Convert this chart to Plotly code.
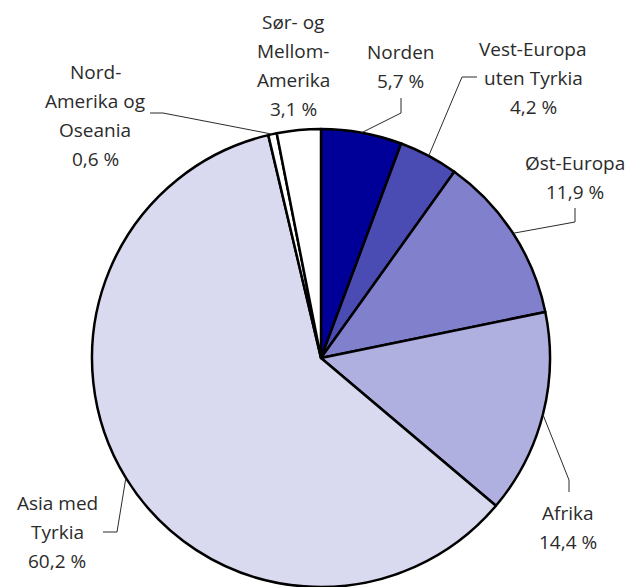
import math
import plotly.graph_objects as go

# Share of immigrants by region of origin (per cent)
regions = ["Norden", "Vest-Europa uten Tyrkia", "Øst-Europa", "Afrika",
           "Asia med Tyrkia", "Nord-Amerika og Oseania", "Sør- og Mellom-Amerika"]
shares = [5.7, 4.2, 11.9, 14.4, 60.2, 0.6, 3.1]
label_lines = [["Norden"], ["Vest-Europa", "uten Tyrkia"], ["Øst-Europa"], ["Afrika"],
               ["Asia med", "Tyrkia"], ["Nord-", "Amerika og", "Oseania"],
               ["Sør- og", "Mellom-", "Amerika"]]

colors = ["#000099", "#4b4bb4", "#8080cc", "#b0b0e0", "#d9d9f0", "#ffffff", "#ffffff"]

W, H = 633, 587
CX, CY, R = 321, 358, 229          # pie centre and radius in pixels
LINE_GAP = 29                       # label line spacing in pixels
TEXT_COLOR = "#2b2b2b"


def px(x):
    return x / W


def py(y):
    return 1 - y / H


# label placement: centre x, first line y, elbow points of the leader line
label_pos = [
    (401, 52, [(401, 98), (401, 113)]),
    (533, 49, [(477, 77), (462, 77)]),
    (575, 163, [(575, 208), (575, 222)]),
    (568, 513, [(569, 492), (569, 480)]),
    (57, 503, [(103, 532), (117, 532)]),
    (95, 72, [(150, 113), (163, 113)]),
    (293, 22, []),
]

fig = go.Figure(go.Pie(
    labels=regions,
    values=shares,
    sort=False,
    direction="clockwise",
    rotation=0,
    marker=dict(colors=colors, line=dict(color="black", width=2.5)),
    textinfo="none",
    hoverinfo="label+percent",
    showlegend=False,
    domain=dict(x=[px(CX - R), px(CX + R)], y=[py(CY + R), py(CY - R)]),
))

total = sum(shares)
cum = 0.0
annotations = []
shapes = []
for name, val, lines, (lx, ly, elbow) in zip(regions, shares, label_lines, label_pos):
    mid = (cum + val / 2) / total * 2 * math.pi
    cum += val
    texts = lines + [f"{val:.1f} %".replace(".", ",")]
    for i, t in enumerate(texts):
        annotations.append(dict(
            x=px(lx), y=py(ly + i * LINE_GAP), xref="paper", yref="paper",
            text=t, showarrow=False, xanchor="center", yanchor="middle",
            font=dict(family="Open Sans", size=19, color=TEXT_COLOR),
        ))
    if elbow:
        anchor = (CX + R * math.sin(mid), CY - R * math.cos(mid))
        pts = elbow + [anchor]
        for (x0, y0), (x1, y1) in zip(pts[:-1], pts[1:]):
            shapes.append(dict(
                type="line", xref="paper", yref="paper",
                x0=px(x0), y0=py(y0), x1=px(x1), y1=py(y1),
                line=dict(color=TEXT_COLOR, width=1),
            ))

fig.update_layout(
    width=W, height=H,
    margin=dict(l=0, r=0, t=0, b=0),
    paper_bgcolor="white",
    plot_bgcolor="white",
    annotations=annotations,
    shapes=shapes,
)

fig.write_html("out.html")
